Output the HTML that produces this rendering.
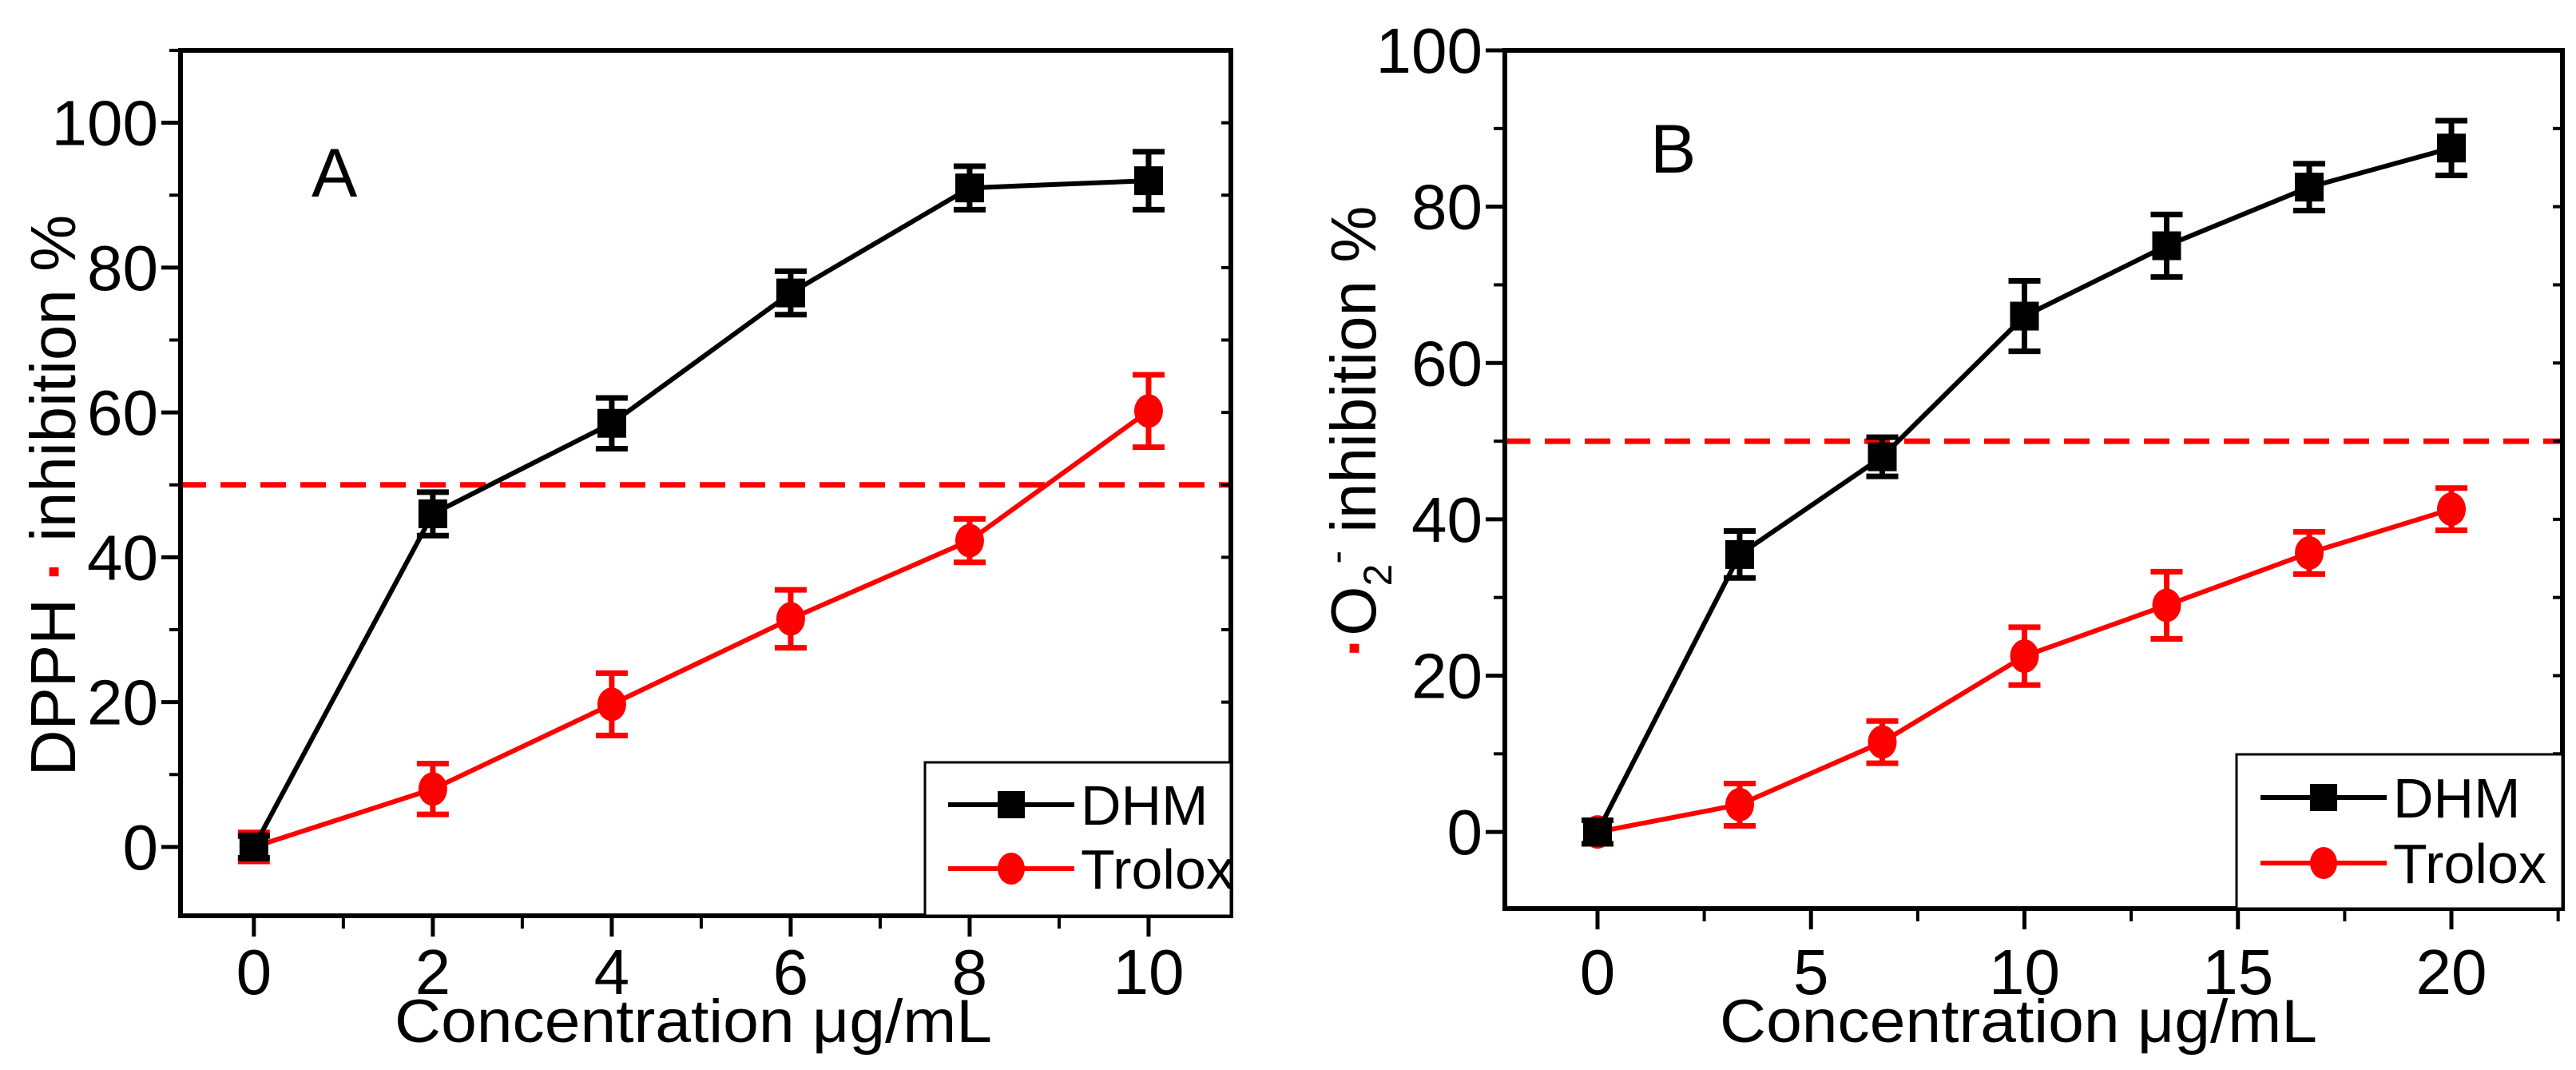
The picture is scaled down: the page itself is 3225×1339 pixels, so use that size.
<!DOCTYPE html>
<html><head><meta charset="utf-8"><style>
html,body{margin:0;padding:0;background:#fff;}
svg{display:block;font-family:"Liberation Sans",sans-serif;}
</style></head><body>
<svg id="chart" width="3225" height="1339" viewBox="0 0 3225 1339" xmlns="http://www.w3.org/2000/svg">
<rect width="3225" height="1339" fill="#fff"/>
<g id="pA"></g>
<g id="pB"></g>
</svg>
<script>
const catsA = [0, 2, 4, 6, 8, 10];
const dhmA = [0, 46, 58.5, 76.5, 91, 92];
const dhmErrA = [1.5, 3, 3.5, 3, 3, 4];
const troA = [0, 8, 19.7, 31.5, 42.3, 60.2];
const troErrA = [2, 3.5, 4.3, 4, 3, 5];
const xTicksA = [0, 2, 4, 6, 8, 10];
const yTicksA = [0, 20, 40, 60, 80, 100];

const catsB = [0, 3.33, 6.67, 10, 13.33, 16.67, 20];
const dhmB = [0, 35.5, 48, 66, 75, 82.5, 87.5];
const dhmErrB = [1.5, 3, 2.5, 4.5, 4, 3, 3.5];
const troB = [0, 3.5, 11.5, 22.5, 29, 35.7, 41.3];
const troErrB = [1.5, 2.7, 2.7, 3.7, 4.3, 2.7, 2.7];
const xTicksB = [0, 5, 10, 15, 20];
const yTicksB = [0, 20, 40, 60, 80, 100];

const NS = "http://www.w3.org/2000/svg";
function mk(parent, tag, attrs, text) {
  const e = document.createElementNS(NS, tag);
  for (const k in attrs) e.setAttribute(k, attrs[k]);
  if (text !== undefined) e.textContent = text;
  parent.appendChild(e);
  return e;
}

function panel(g, cfg) {
  const xs = v => cfg.L + (v - cfg.x0) / (cfg.x1 - cfg.x0) * (cfg.R - cfg.L);
  const ys = v => cfg.B - (v - cfg.y0) / (cfg.y1 - cfg.y0) * (cfg.B - cfg.T);
  const d = mk(g, "line", {x1: cfg.L, x2: cfg.R, y1: ys(50), y2: ys(50), stroke: "#ff0000", "stroke-width": 7, "stroke-dasharray": "32 18"});
  
  
  for (let v = cfg.y0c; v <= cfg.y1 + 0.01; v += cfg.yMinor) {
    const t = mk(g, "line", {x1: cfg.L - 14, x2: cfg.L, y1: ys(v), y2: ys(v), stroke: "#000", "stroke-width": 4});
    
    
    const t2 = mk(g, "line", {x1: cfg.R, x2: cfg.R - 12, y1: ys(v), y2: ys(v), stroke: "#000", "stroke-width": 4});
    
    
  }
  for (let v = cfg.xMinorStart; v <= cfg.x1 + 0.01; v += cfg.xMinor) {
    const t = mk(g, "line", {x1: xs(v), x2: xs(v), y1: cfg.B, y2: cfg.B + 16, stroke: "#000", "stroke-width": 4});
    
    
  }
  cfg.yTicks.forEach(v => {
    const t = mk(g, "line", {x1: cfg.L - 24, x2: cfg.L, y1: ys(v), y2: ys(v), stroke: "#000", "stroke-width": 5});
    
    
    const l = mk(g, "text", {x: cfg.L - 28, y: ys(v) + 28, "text-anchor": "end", "font-size": 80, fill: "#000"}, String(v));
    
    
  });
  cfg.xTicks.forEach(v => {
    const t = mk(g, "line", {x1: xs(v), x2: xs(v), y1: cfg.B, y2: cfg.B + 26, stroke: "#000", "stroke-width": 5});
    
    
    const l = mk(g, "text", {x: xs(v), y: 1244, "text-anchor": "middle", "font-size": 80, fill: "#000"}, String(v));
    
    
  });
  const xt = mk(g, "text", {x: cfg.xTitleX, y: 1304, "text-anchor": "middle", "font-size": 76, fill: "#000", textLength: 748, lengthAdjust: "spacingAndGlyphs"}, "Concentration   μg/mL");
  
  

  function series(cats, vals, errs, color, shape, name) {
    const pts = cats.map((c, i) => xs(c) + "," + ys(vals[i])).join(" ");
    const pl = mk(g, "polyline", {points: pts, fill: "none", stroke: color, "stroke-width": 6});
    
    
    cats.forEach((c, i) => {
      const x = xs(c), yt = ys(vals[i] + errs[i]), yb = ys(vals[i] - errs[i]);
      const eb = mk(g, "path", {d: `M${x},${yt}V${yb}M${x - 20},${yt}H${x + 20}M${x - 20},${yb}H${x + 20}`, stroke: color, "stroke-width": 7, fill: "none"});
      
      
      let m;
      if (shape === "sq") m = mk(g, "rect", {x: x - 18, y: ys(vals[i]) - 18, width: 36, height: 36, fill: color});
      else m = mk(g, "ellipse", {cx: x, cy: ys(vals[i]), rx: 18, ry: 21, fill: color});
      
      
    });
  }
  series(cfg.cats, cfg.tro, cfg.troErr, "#ff0000", "ci", "trolox");
  series(cfg.cats, cfg.dhm, cfg.dhmErr, "#000", "sq", "dhm");

  const fr = mk(g, "rect", {x: cfg.L, y: cfg.T, width: cfg.R - cfg.L, height: cfg.B - cfg.T, fill: "none", stroke: "#000", "stroke-width": 6});
  
  

  const lg = mk(g, "g", {});
  
  
  const lb = mk(lg, "rect", {x: cfg.legX, y: cfg.legY, width: cfg.R - cfg.legX, height: cfg.B - cfg.legY, fill: "#fff", stroke: "#000", "stroke-width": 3});
  
  
  [["DHM", "#000", "sq", cfg.legY1], ["Trolox", "#ff0000", "ci", cfg.legY2]].forEach(e => {
    const en = mk(lg, "g", {});
    
    
    mk(en, "line", {x1: cfg.legLX, x2: cfg.legLX + 158, y1: e[3], y2: e[3], stroke: e[1], "stroke-width": 6});
    const cx = cfg.legLX + 79;
    if (e[2] === "sq") mk(en, "rect", {x: cx - 17, y: e[3] - 17, width: 34, height: 34, fill: e[1]});
    else mk(en, "ellipse", {cx: cx, cy: e[3], rx: 17, ry: 20, fill: e[1]});
    mk(en, "text", {x: cfg.legLX + 166, y: e[3] + 25, "font-size": 70, fill: "#000"}, e[0]);
  });
  const pl = mk(g, "text", {x: cfg.labX, y: cfg.labY, "font-size": 86, fill: "#000"}, cfg.lab);
  
  
}

const gA = document.getElementById("pA");
panel(gA, {L: 226, R: 1541, T: 63, B: 1146, x0: -0.82, x1: 10.92, y0: -9.5, y0c: -0, y1: 110,
  yMinor: 10, xMinor: 1, xMinorStart: 0, xTicks: xTicksA, yTicks: yTicksA,
  cats: catsA, dhm: dhmA, dhmErr: dhmErrA, tro: troA, troErr: troErrA,
  xTitleX: 868, legX: 1158, legY: 954, legY1: 1007, legY2: 1087, legLX: 1187,
  lab: "A", labX: 390, labY: 246});
const gB = document.getElementById("pB");
panel(gB, {L: 1884, R: 3208, T: 63, B: 1137, x0: -2.17, x1: 22.6, y0: -9.8, y0c: 0, y1: 100,
  yMinor: 10, xMinor: 2.5, xMinorStart: 0, xTicks: xTicksB, yTicks: yTicksB,
  cats: catsB, dhm: dhmB, dhmErr: dhmErrB, tro: troB, troErr: troErrB,
  xTitleX: 2527, legX: 2800, legY: 944, legY1: 998, legY2: 1080, legLX: 2830,
  lab: "B", labX: 2066, labY: 216});

const svg = document.getElementById("chart");
const ya = mk(svg, "text", {transform: "translate(94,620) rotate(-90)", "text-anchor": "middle", "font-size": 80, fill: "#000"});


mk(ya, "tspan", {}, "DPPH ");
mk(ya, "tspan", {fill: "#ff0000", "font-weight": "bold"}, "·");
mk(ya, "tspan", {}, " inhibition %");
const yb = mk(svg, "text", {transform: "translate(1722,540) rotate(-90)", "text-anchor": "middle", "font-size": 80, fill: "#000"});


mk(yb, "tspan", {fill: "#ff0000", "font-weight": "bold"}, "·");
mk(yb, "tspan", {}, "O");
mk(yb, "tspan", {dy: 20, "font-size": 50}, "2");
mk(yb, "tspan", {dy: -52, "font-size": 50}, "-");
mk(yb, "tspan", {dy: 32}, " inhibition %");
</script>
</body></html>
